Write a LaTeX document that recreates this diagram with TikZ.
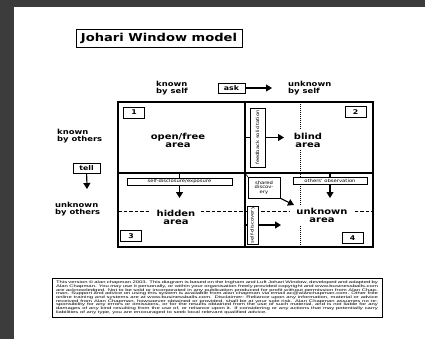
\documentclass[tikz,border=0pt]{standalone}
\usepackage{fontspec}
\usetikzlibrary{arrows.meta}
\newfontfamily\jwfont[FakeStretch=1.2]{DejaVu Sans}
\newfontfamily\notefont[FakeStretch=1.65]{Liberation Sans}
\definecolor{framegray}{RGB}{60,60,60}

\begin{document}
\begin{tikzpicture}[x=1pt, y=-1pt,
    grid/.style={line width=1.2pt, line cap=rect},
    guide/.style={line width=0.6pt, dash pattern=on 3.5pt off 2pt},
    dotline/.style={line width=0.7pt, dash pattern=on 1pt off 1pt},
    lab/.style={font=\jwfont\bfseries\fontsize{7}{7.5}\selectfont, align=left, inner sep=0pt},
    area/.style={font=\jwfont\bfseries\fontsize{8.3}{8}\selectfont, align=center, fill=white, inner xsep=6pt, inner ysep=3pt},
    keybox/.style={draw, line width=0.6pt, font=\jwfont\bfseries\fontsize{6.5}{7}\selectfont, minimum width=27pt, minimum height=10pt, inner sep=0pt},
    numbox/.style={draw, line width=0.8pt, fill=white, font=\jwfont\bfseries\fontsize{6.5}{7}\selectfont, minimum width=21pt, minimum height=11pt, inner sep=0pt},
    tinybox/.style={draw, line width=0.5pt, fill=white, font=\jwfont\fontsize{4.4}{4.6}\selectfont, inner sep=0pt, align=center},
    arr/.style={line width=1.1pt, -{Triangle[length=6pt, width=7pt]}},
    stub/.style={line width=1.2pt}]

    % Page and dark frame
    \fill[framegray] (0,0) rectangle (425,339);
    \fill[white] (14,7) rectangle (425,339);
    \useasboundingbox (0,0) rectangle (425,339);

    % Title
    \node[draw, line width=0.8pt, minimum width=166pt, minimum height=18pt, inner sep=0pt,
          font=\jwfont\bfseries\fontsize{10.9}{12}\selectfont] (title) at (159,38) {Johari Window model};

    % Window corners and centre
    \coordinate (nw) at (118,102);
    \coordinate (se) at (373,247);
    \coordinate (mid) at (245,173);
    \coordinate (dtop) at (300,102);
    \coordinate (dbot) at (300,247);
    \coordinate (dl) at (118,211);
    \coordinate (dr) at (373,211);

    % Guide lines inside the window
    \draw[dotline] (dtop) -- (dbot);
    \draw[guide] (dl) -- (dr);

    % The four panes
    \draw[grid] (nw) rectangle (se);
    \draw[grid] (mid |- nw) -- (mid |- se);
    \draw[grid] (mid -| nw) -- (mid -| se);

    % Self / others labels
    \node[lab, anchor=west] (kself) at (156,88) {known\\by self};
    \node[keybox] (ask) at (231.5,88) {ask};
    \coordinate (askend) at (272,88);
    \draw[arr] (ask) -- (askend);
    \node[lab, anchor=west] (uself) at (288,88) {unknown\\by self};
    \node[lab, anchor=west] (kothers) at (57,136) {known\\by others};
    \node[keybox] (tell) at (86.5,168) {tell};
    \coordinate (tellend) at (87,189);
    \draw[arr] (tell) -- (tellend);
    \node[lab, anchor=west] (uothers) at (55,209) {unknown\\by others};

    % Pane names
    \node[area] (open) at (178,140) {open/free\\area};
    \node[area] (blind) at (308,140) {blind\\area};
    \node[area] (hidden) at (176,217) {hidden\\area};
    \node[area] (unknown) at (322,215) {unknown\\area};

    % Pane numbers
    \node[numbox] (q1) at (134,112.5) {1};
    \node[numbox] (q2) at (355.5,112) {2};
    \node[numbox] (q3) at (131,236) {3};
    \node[numbox] (q4) at (352.5,238) {4};

    % Feedback solicitation
    \node[tinybox, rotate=90, minimum width=59pt, minimum height=15pt] (fb) at (257.5,137.5) {feedback solicitation};
    \coordinate (fbend) at (284,137.5);
    \draw[stub] (fb.north -| mid) -- (fb.north);
    \draw[arr] (fb) -- (fbend);

    % Self-disclosure
    \node[tinybox, minimum width=105pt, minimum height=7pt] (sdis) at (179.5,181.5) {self-disclosure/exposure};
    \coordinate (sdisend) at (179.5,198);
    \draw[stub] (sdis.north |- mid) -- (sdis.north);
    \draw[arr] (sdis) -- (sdisend);

    % Others' observation
    \node[tinybox, minimum width=74pt, minimum height=7pt] (oobs) at (330,181) {others' observation};
    \coordinate (oobsend) at (330,198);
    \draw[stub] (oobs.north |- mid) -- (oobs.north);
    \draw[arr] (oobs) -- (oobsend);

    % Shared discovery
    \node[tinybox, minimum width=32pt, minimum height=21pt] (shd) at (264,187.5) {shared\\discov-\\ery};
    \coordinate (shdend) at (294,205);
    \draw[line width=0.6pt] (mid) -- (shd.north west);
    \draw[arr] (shd.south east) -- (shdend);

    % Self-discovery
    \node[tinybox, rotate=90, minimum width=38pt, minimum height=11pt] (sdisc) at (252.5,225) {self-discovery};
    \coordinate (sdiscend) at (281,225);
    \draw[stub] (sdisc.north -| mid) -- (sdisc.north);
    \draw[arr] (sdisc) -- (sdiscend);

    % Copyright note
    \node[draw, line width=0.5pt, minimum width=330pt, minimum height=39pt, text width=322pt, inner sep=2pt,
          align=justify, font=\notefont\fontsize{3.6}{3.7}\selectfont] (note) at (217,297.5)
      {This version \copyright{} alan chapman 2003. This diagram is based on the Ingham and Luft Johari Window, developed and adapted by Alan Chapman. You may use it personally, or within your organisation freely provided copyright and www.businessballs.com are acknowledged. Not to be sold or incorporated in any publication produced for profit without permission from Alan Chapman. Support and advice on using this system is available from alan chapman via email ac@alanchapman.com. Other free online training and systems are at www.businessballs.com. Disclaimer: Reliance upon any information, material or advice received from Alan Chapman, howsoever obtained or provided, shall be at your sole risk. Alan Chapman assumes no responsibility for any errors or omissions, or for the results obtained from the use of such material, and is not liable for any damages of any kind resulting from the use of, or reliance upon it. If considering or any actions that may potentially carry liabilities of any type, you are encouraged to seek local relevant qualified advice.};
\end{tikzpicture}
\end{document}
